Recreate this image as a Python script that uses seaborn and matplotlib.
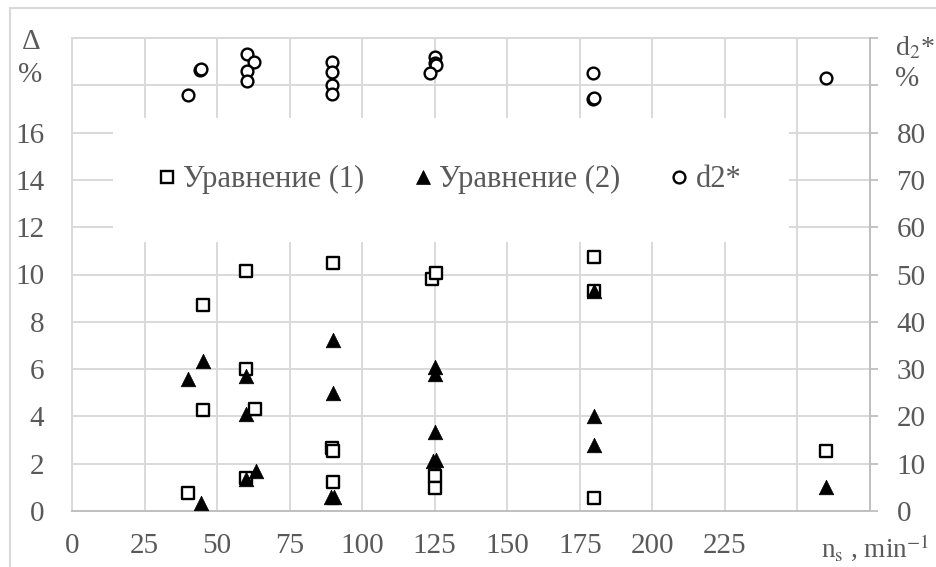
import matplotlib
matplotlib.use("Agg")
import matplotlib.pyplot as plt
import seaborn as sns
from matplotlib.lines import Line2D
from matplotlib.patches import Rectangle

# Relative deviation Δ, % (left axis) for two equations vs. speed n_s
eq1_ns = [40, 45, 45, 60, 60, 63, 60, 89.5, 90, 90, 90, 124, 125.5, 125, 125, 180, 180, 180, 260]
eq1_val = [0.74, 8.7, 4.25, 10.15, 6.0, 4.3, 1.4, 2.65, 2.55, 10.5, 1.22, 9.8, 10.05, 1.47, 0.97, 10.75, 9.3, 0.55, 2.55]

eq2_ns = [40, 45, 44.5, 60, 60, 60, 63.5, 90, 90, 89.3, 90.3, 125, 125, 125, 124.5, 125.5, 180, 180, 180, 260]
eq2_val = [5.6, 6.33, 0.32, 5.72, 4.1, 1.35, 1.68, 7.22, 4.98, 0.6, 0.6, 6.07, 5.8, 3.34, 2.12, 2.15, 9.3, 4.0, 2.78, 1.02]

# d2*, % (right axis)
d2_ns = [40, 44, 44.5, 60.3, 62.8, 60.3, 60.3, 89.5, 89.5, 89.5, 89.5, 125, 125, 125.4, 123.4, 179.5, 179.5, 179.8, 260]
d2_val = [87.9, 93.2, 93.4, 96.6, 94.9, 93.0, 90.9, 94.9, 92.8, 90.1, 88.2, 95.9, 94.7, 94.2, 92.6, 92.6, 87.0, 87.3, 91.6]

x_ticks = [0, 25, 50, 75, 100, 125, 150, 175, 200, 225, 250]
x_labels = ["0", "25", "50", "75", "100", "125", "150", "175", "200", "225", ""]
left_ticks = [0, 2, 4, 6, 8, 10, 12, 14, 16, 18, 20]
left_labels = ["0", "2", "4", "6", "8", "10", "12", "14", "16", "", ""]
right_ticks = [0, 10, 20, 30, 40, 50, 60, 70, 80, 90, 100]
right_labels = ["0", "10", "20", "30", "40", "50", "60", "70", "80", "", ""]
legend_labels = ["Уравнение (1)", "Уравнение (2)", "d2*"]

sns.set_theme(style="white")
plt.rcParams["font.family"] = ["Liberation Serif", "DejaVu Serif"]
plt.rcParams["mathtext.fontset"] = "stix"

GRID = "#d9d9d9"
AXIS = "#bfbfbf"
TXT = "#595959"
FS = 21
LFS = 22

fig = plt.figure(figsize=(9.37, 5.67), dpi=100)
ax = fig.add_axes([72 / 937, 1 - 511 / 567, 798 / 937, 473 / 567])
ax2 = ax.twinx()

sns.scatterplot(x=eq1_ns, y=eq1_val, ax=ax, marker="s", s=72, color="white",
                edgecolor="black", linewidth=1.7, zorder=3)
sns.scatterplot(x=eq2_ns, y=eq2_val, ax=ax, marker="^", s=110, color="black",
                edgecolor="black", linewidth=0.5, zorder=4)
sns.scatterplot(x=d2_ns, y=d2_val, ax=ax2, marker="o", s=72, color="white",
                edgecolor="black", linewidth=1.7, zorder=3)

ax.set_xlim(0, 275)
ax.set_ylim(0, 20)
ax2.set_ylim(0, 100)

ax.set_xticks(x_ticks)
ax.set_xticklabels(x_labels)
ax.set_yticks(left_ticks)
ax.set_yticklabels(left_labels)
ax2.set_yticks(right_ticks)
ax2.set_yticklabels(right_labels)

ax.grid(True, color=GRID, linewidth=1.4)
ax.set_axisbelow(True)
ax.tick_params(axis="x", length=0, pad=16, labelsize=FS, labelcolor=TXT)
ax.tick_params(axis="y", length=0, pad=20, labelsize=FS, labelcolor=TXT)
ax2.tick_params(axis="y", length=6, width=1.3, color=AXIS, pad=13,
                labelsize=FS, labelcolor=TXT)

for name, sp in ax.spines.items():
    sp.set_visible(True)
    sp.set_color(GRID)
    sp.set_linewidth(1.4)
ax.spines["bottom"].set_color(AXIS)
for name, sp in ax2.spines.items():
    sp.set_visible(name == "right")
ax2.spines["right"].set_color(AXIS)
ax2.spines["right"].set_linewidth(1.4)

handles = [
    Line2D([], [], ls="none", marker="s", ms=9, mfc="white", mec="black", mew=1.7),
    Line2D([], [], ls="none", marker="^", ms=10.5, mfc="black", mec="black", mew=0.5),
    Line2D([], [], ls="none", marker="o", ms=8.5, mfc="white", mec="black", mew=1.7),
]
leg = ax2.legend(handles, legend_labels, loc="upper left",
                 bbox_to_anchor=(41 / 798, 393 / 473), ncol=3, frameon=True,
                 fancybox=False, facecolor="white", edgecolor="none", framealpha=1,
                 borderpad=1.55, columnspacing=1.7, handlelength=0.45,
                 handletextpad=0.3, borderaxespad=0, fontsize=LFS)
for t in leg.get_texts():
    t.set_color(TXT)
leg.set_zorder(10)

# axis captions
fig.text(31 / 937, 1 - 42 / 567, "Δ", ha="center", va="center", fontsize=FS, color=TXT)
fig.text(30 / 937, 1 - 75 / 567, "%", ha="center", va="center", fontsize=FS, color=TXT)
fig.text(895 / 937, 1 - 48 / 567, r"d$_{2}$*", ha="left", va="center", fontsize=20, color=TXT)
fig.text(895 / 937, 1 - 79 / 567, "%", ha="left", va="center", fontsize=FS, color=TXT)
fig.text(821 / 937, 1 - 548 / 567, r"n$_{\mathrm{s}}$ , min$^{-1}$", ha="left",
         va="center", fontsize=19.5, color=TXT)

# outer frame
fig.add_artist(Rectangle((10 / 937, -0.5), 2, 1.5 - 8 / 567, transform=fig.transFigure,
                         fill=False, edgecolor=GRID, linewidth=1.5))

fig.savefig("out.png", dpi=100)
